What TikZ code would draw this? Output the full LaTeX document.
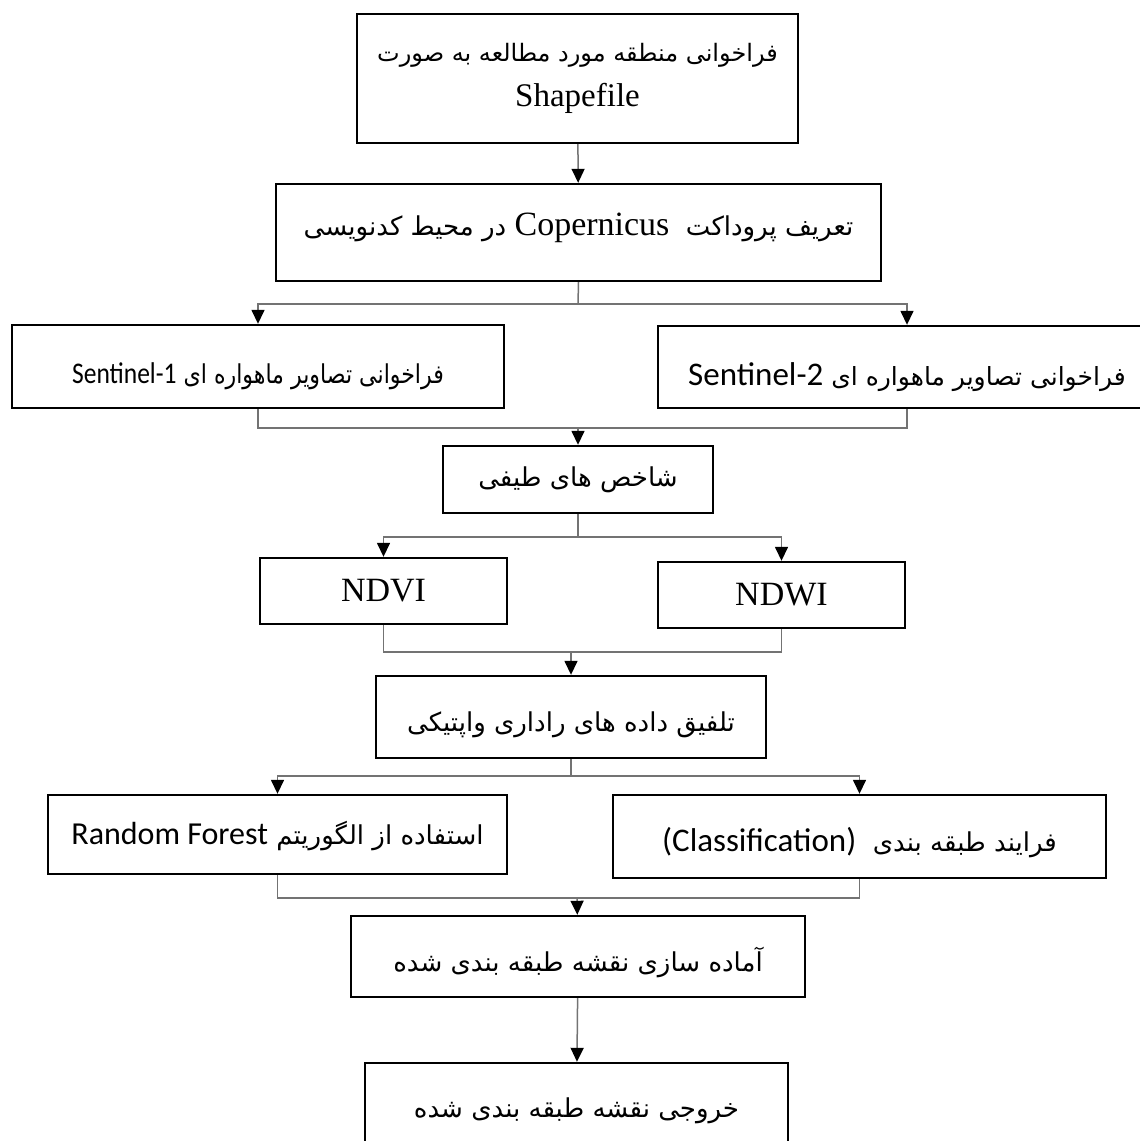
\documentclass[tikz,border=0pt]{standalone}
\usepackage{fontspec}
\setmainfont{Liberation Serif}
\newfontfamily\persian[Script=Arabic]{DejaVu Sans}
\newfontfamily\persiannarrow[Script=Arabic, FakeStretch=0.85]{DejaVu Sans}
\newfontfamily\latinsans{Carlito}
\newfontfamily\latinnarrow[FakeStretch=0.85]{Carlito}
\usetikzlibrary{arrows.meta}
\TeXXeTstate=1

\newcommand{\lowered}[2]{\raisebox{-#1}[\height][\depth]{#2}}

\tikzset{
    box/.style = {draw, line width=1.2pt, inner sep=0pt, align=center},
    link/.style = {draw=black!55, line width=0.75pt},
    flow/.style = {link, -{Triangle[length=7pt, width=6.5pt, color=black]}},
    fsize/.style = {font=\fontsize{#1}{22.5}\selectfont}
}

\begin{document}
\begin{tikzpicture}[x=0.5pt, y=-0.5pt]
    \useasboundingbox (0,0) rectangle (1140,1141);
    \clip (0,0) rectangle (1140,1141);

    % boxes
    \node[box, fsize=16.5, minimum width=220.5pt, minimum height=64.5pt] (load) at (577.5,78.5)
        {{\persian\fontsize{12}{16}\selectfont\beginR فراخوانی منطقه مورد مطالعه به صورت\endR}\\ Shapefile};
    \node[box, fsize=13, minimum width=302.5pt, minimum height=48.5pt] (product) at (578.5,232.5)
        {\lowered{-2.5pt}{\persian\beginR تعریف پروداکت \ {\rmfamily\fontsize{17}{18}\selectfont\beginL Copernicus\endL} در محیط کدنویسی\endR}};
    \node[box, fsize=13, minimum width=246pt, minimum height=41.5pt] (sentA) at (258,366.5)
        {\lowered{5pt}{\persiannarrow\beginR فراخوانی تصاویر ماهواره ای {\latinnarrow\fontsize{15}{18}\selectfont\beginL Sentinel-1\endL}\endR}};
    \node[box, fsize=12.5, minimum width=249pt, minimum height=41pt] (sentB) at (907,367)
        {\lowered{5pt}{\persian\beginR فراخوانی تصاویر ماهواره ای {\latinsans\fontsize{16.5}{18}\selectfont\beginL Sentinel-2\endL}\endR}};
    \node[box, fsize=13, minimum width=135pt, minimum height=33.5pt] (index) at (578,479.5)
        {\persian\beginR شاخص های طیفی\endR};
    \node[box, fsize=17, minimum width=123.5pt, minimum height=33pt] (ndvi) at (383.5,591) {NDVI};
    \node[box, fsize=17, minimum width=123.5pt, minimum height=33pt] (ndwi) at (781.5,595) {NDWI};
    \node[box, fsize=13, minimum width=195pt, minimum height=41pt] (fusion) at (571,717)
        {\lowered{4pt}{\persian\beginR تلفیق داده های راداری واپتیکی\endR}};
    \node[box, fsize=13, minimum width=229.5pt, minimum height=39.5pt] (forest) at (277.5,834.5)
        {\lowered{1pt}{\persian\beginR استفاده از الگوریتم {\latinsans\fontsize{16}{18}\selectfont\beginL Random Forest\endL}\endR}};
    \node[box, fsize=13, minimum width=246.5pt, minimum height=41.5pt] (classify) at (859.5,836.5)
        {\lowered{3pt}{\persian\beginR فرایند طبقه بندی \ {\latinsans\fontsize{16.5}{18}\selectfont\beginL (Classification)\endL}\endR}};
    \node[box, fsize=13, minimum width=227pt, minimum height=40.5pt] (prepare) at (578,956.5)
        {\lowered{3pt}{\persian\beginR آماده سازی نقشه طبقه بندی شده\endR}};
    \node[box, fsize=13, minimum width=211.5pt, minimum height=48pt] (output) at (576.5,1111)
        {\persian\beginR خروجی نقشه طبقه بندی شده\endR};

    % junctions
    \coordinate (s1) at (578,304);
    \coordinate (m1) at (578,428);
    \coordinate (s2) at (578,537);
    \coordinate (m2) at (571,652);
    \coordinate (s3) at (571,776);
    \coordinate (m3) at (577,898);

    % connectors
    \draw[flow] (load) -- (product);
    \draw[link] (product.south) -- (s1);
    \draw[flow] (s1) -| (sentA);
    \draw[flow] (s1) -| (sentB);
    \draw[link] (sentA.south) |- (m1);
    \draw[link] (sentB.south) |- (m1);
    \draw[flow] (m1) -- (index);
    \draw[link] (index.south) -- (s2);
    \draw[flow] (s2) -| (ndvi);
    \draw[flow] (s2) -| (ndwi);
    \draw[link] (ndvi.south) |- (m2);
    \draw[link] (ndwi.south) |- (m2);
    \draw[flow] (m2) -- (fusion);
    \draw[link] (fusion.south) -- (s3);
    \draw[flow] (s3) -| (forest);
    \draw[flow] (s3) -| (classify);
    \draw[link] (forest.south) |- (m3);
    \draw[link] (classify.south) |- (m3);
    \draw[flow] (m3) -- (prepare);
    \draw[flow] (prepare) -- (output);
\end{tikzpicture}
\end{document}
